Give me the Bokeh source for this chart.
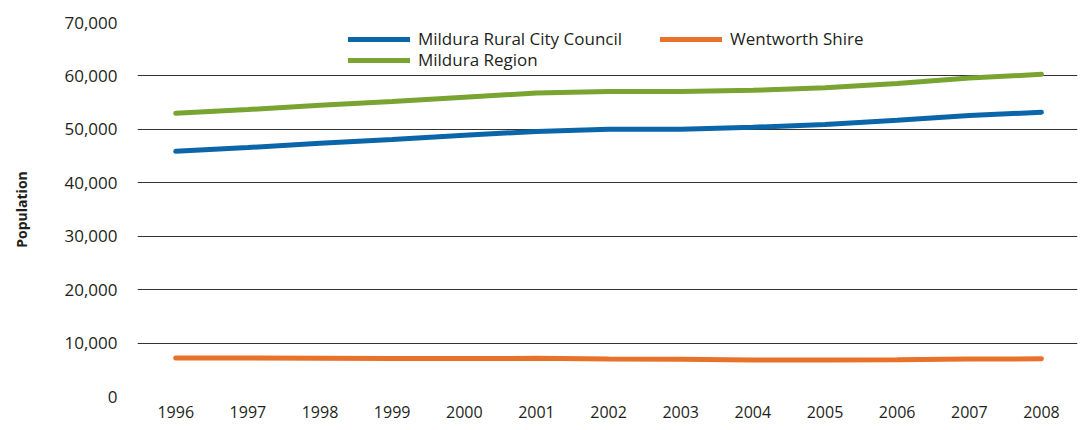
from bokeh.plotting import figure
from bokeh.models import Range1d, FixedTicker, NumeralTickFormatter, Legend, LegendItem
from bokeh.embed import file_html
from bokeh.resources import INLINE

years = [1996, 1997, 1998, 1999, 2000, 2001, 2002, 2003, 2004, 2005, 2006, 2007, 2008]
mildura_rcc = [45900, 46600, 47400, 48100, 48900, 49600, 50000, 50000, 50400, 50900, 51700, 52600, 53200]
wentworth = [7200, 7200, 7150, 7100, 7100, 7150, 7000, 6950, 6850, 6850, 6900, 7000, 7050]
mildura_region = [53000, 53700, 54500, 55200, 56000, 56800, 57100, 57100, 57300, 57800, 58600, 59600, 60300]
y_ticks = [0, 10000, 20000, 30000, 40000, 50000, 60000, 70000]

FONT = "Open Sans"
TXT = "#231f20"

p = figure(width=1080, height=428, output_backend="svg", toolbar_location=None,
           x_range=Range1d(1995.47, 2008.5), y_range=Range1d(0, 70000),
           min_border_left=137, min_border_right=3, min_border_top=22, min_border_bottom=32)
p.outline_line_color = None
p.background_fill_color = "white"

p.xgrid.grid_line_color = None
p.ygrid.grid_line_color = "#333333"
p.ygrid.grid_line_width = 1
p.ygrid.ticker = FixedTicker(ticks=y_ticks)

p.xaxis.ticker = FixedTicker(ticks=years)
p.yaxis.ticker = FixedTicker(ticks=y_ticks)
p.yaxis.formatter = NumeralTickFormatter(format="0,0")
for ax in (p.xaxis[0], p.yaxis[0]):
    ax.axis_line_color = None
    ax.major_tick_line_color = None
    ax.minor_tick_line_color = None
    ax.major_label_text_font = FONT
    ax.major_label_text_color = TXT
p.xaxis.major_label_text_font_size = "16px"
p.yaxis.major_label_text_font_size = "17px"
p.xaxis.major_label_standoff = 3
p.yaxis.major_label_standoff = 14
p.yaxis.axis_label = "Population"
p.yaxis.axis_label_text_font = FONT
p.yaxis.axis_label_text_font_style = "bold"
p.yaxis.axis_label_text_font_size = "14px"
p.yaxis.axis_label_text_color = TXT
p.yaxis.axis_label_standoff = 30

r1 = p.line(years, mildura_rcc, line_color="#0b66a9", line_width=5, line_cap="round")
r2 = p.line(years, wentworth, line_color="#e9722a", line_width=5, line_cap="round")
r3 = p.line(years, mildura_region, line_color="#79a432", line_width=5, line_cap="round")

def mk_legend(label, r, loc):
    lg = Legend(items=[LegendItem(label=label, renderers=[r])], location=loc,
                orientation="horizontal", padding=0, margin=0, spacing=0,
                glyph_width=62, glyph_height=20, label_height=20, label_standoff=8,
                label_text_font=FONT, label_text_font_size="17px", label_text_color=TXT,
                background_fill_alpha=0, border_line_alpha=0)
    p.add_layout(lg, "center")

mk_legend("Mildura Rural City Council", r1, (211, 346))
mk_legend("Wentworth Shire", r2, (523, 346))
mk_legend("Mildura Region", r3, (211, 325))

open("out.html", "w").write(file_html(p, INLINE))
